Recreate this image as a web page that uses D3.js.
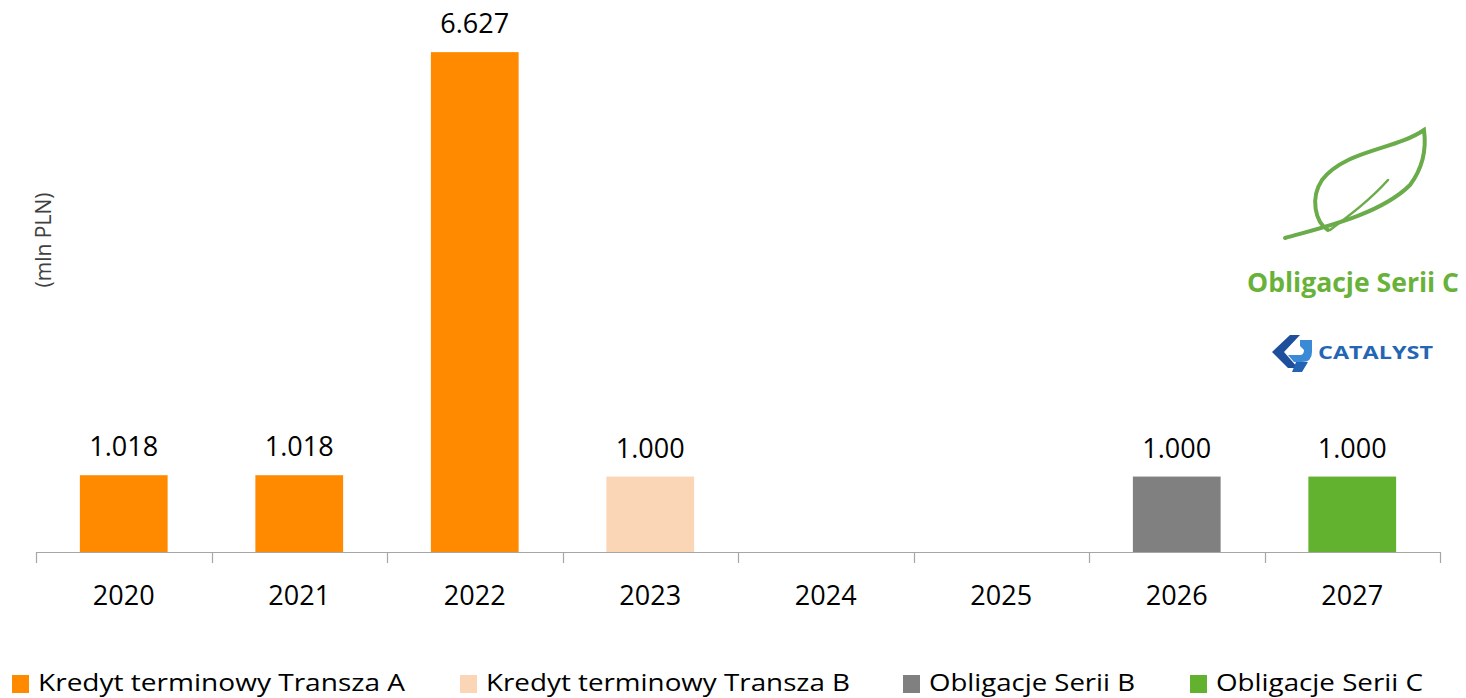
<!DOCTYPE html>
<html>
<head>
<meta charset="utf-8">
<script src="https://cdnjs.cloudflare.com/ajax/libs/d3/7.8.5/d3.min.js"></script>
<style>
  body { margin: 0; background: #fff; }
  text { font-family: "Open Sans", "Noto Sans", sans-serif; }
</style>
</head>
<body>
<div id="chart"></div>
<script>
var years = ["2020", "2021", "2022", "2023", "2024", "2025", "2026", "2027"];
var seriesNames = ["Kredyt terminowy Transza A", "Kredyt terminowy Transza B", "Obligacje Serii B", "Obligacje Serii C"];
var seriesColors = ["#ff8a00", "#fad5b6", "#808080", "#63b22f"];
var transzaA = [1.018, 1.018, 6.627, null, null, null, null, null];
var transzaB = [null, null, null, 1.000, null, null, null, null];
var serieB = [null, null, null, null, null, null, 1.000, null];
var serieC = [null, null, null, null, null, null, null, 1.000];

(function () {
  var width = 1466, height = 698;
  var svg = d3.select("#chart").append("svg")
    .attr("width", width)
    .attr("height", height);

  var allSeries = [transzaA, transzaB, serieB, serieC];
  var bars = [];
  allSeries.forEach(function (vals, s) {
    vals.forEach(function (v, i) {
      if (v != null) bars.push({ year: years[i], value: v, s: s });
    });
  });

  var x = d3.scaleBand().domain(years).range([36, 1440]).paddingInner(0.5).paddingOuter(0.25);
  var y = d3.scaleLinear().domain([0, 7]).range([552, 24]);

  // bars
  svg.selectAll(".bar")
    .data(bars)
    .enter().append("rect")
    .attr("class", "bar")
    .attr("x", function (d) { return x(d.year); })
    .attr("width", x.bandwidth())
    .attr("y", function (d) { return y(d.value); })
    .attr("height", function (d) { return y(0) - y(d.value); })
    .attr("fill", function (d) { return seriesColors[d.s]; });

  // value labels
  svg.selectAll(".lbl")
    .data(bars)
    .enter().append("text")
    .attr("x", function (d) { return x(d.year) + x.bandwidth() / 2; })
    .attr("y", function (d) { return y(d.value) - 19; })
    .attr("text-anchor", "middle")
    .style("font-size", "27px")
    .attr("fill", "#000")
    .text(function (d) { return d3.format(".3f")(d.value); });

  // x axis
  var axis = svg.append("g");
  axis.append("line")
    .attr("x1", 36).attr("x2", 1440).attr("y1", 552.5).attr("y2", 552.5)
    .attr("stroke", "#a6a6a6").attr("stroke-width", 1.2);
  d3.range(years.length + 1).forEach(function (i) {
    var tx = Math.round(36 + i * x.step() * 1) + 0.5;
    axis.append("line")
      .attr("x1", tx).attr("x2", tx).attr("y1", 552).attr("y2", 563)
      .attr("stroke", "#a6a6a6").attr("stroke-width", 1.2);
  });
  axis.selectAll(".yr")
    .data(years)
    .enter().append("text")
    .attr("x", function (d) { return x(d) + x.bandwidth() / 2; })
    .attr("y", 605)
    .attr("text-anchor", "middle")
    .style("font-size", "27px")
    .attr("fill", "#000")
    .text(function (d) { return d; });

  // y axis title
  svg.append("text")
    .attr("transform", "translate(51,240) rotate(-90)")
    .attr("text-anchor", "middle")
    .style("font-size", "21px")
    .attr("fill", "#404040")
    .text("(mln PLN)");

  // legend
  var legX = [12, 460, 903, 1190];
  var legW = [367, 364, 206, 207];
  var leg = svg.selectAll(".leg")
    .data(seriesNames)
    .enter().append("g")
    .attr("transform", function (d, i) { return "translate(" + legX[i] + ",0)"; });
  leg.append("rect")
    .attr("x", 0).attr("y", 675).attr("width", 17).attr("height", 18)
    .attr("fill", function (d, i) { return seriesColors[i]; });
  leg.append("text")
    .attr("x", 26).attr("y", 691)
    .style("font-size", "24px")
    .attr("fill", "#000")
    .attr("textLength", function (d, i) { return legW[i]; })
    .attr("lengthAdjust", "spacingAndGlyphs")
    .text(function (d) { return d; });

  // leaf logo
  var logo = svg.append("g");
  logo.append("path")
    .attr("d", "M1285,238 C1320,228 1380,215 1410,185 C1425,165 1426,145 1424,130 C1395,150 1345,150 1322,180 C1310,198 1315,222 1328,230")
    .attr("fill", "none").attr("stroke", "#6aab4a").attr("stroke-width", 4).attr("stroke-linecap", "round");
  logo.append("path")
    .attr("d", "M1388,180 C1370,200 1350,215 1330,230")
    .attr("fill", "none").attr("stroke", "#6aab4a").attr("stroke-width", 2.5).attr("stroke-linecap", "round");

  svg.append("text")
    .attr("x", 1353).attr("y", 292)
    .attr("text-anchor", "middle")
    .style("font-size", "26px").style("font-weight", "bold")
    .attr("textLength", 212).attr("lengthAdjust", "spacingAndGlyphs")
    .attr("fill", "#68b23a")
    .text("Obligacje Serii C");

  // catalyst logo
  var cat = svg.append("g");
  cat.append("path")
    .attr("d", "M1290,335 L1300,335 L1284,352 L1298,368 L1288,368 L1272,352 Z")
    .attr("fill", "#1d4f9c");
  cat.append("path")
    .attr("d", "M1300,340 L1312,340 L1312,352 Q1312,362 1302,362 L1294,362 L1288,355 L1300,355 Q1304,355 1304,350 L1300,346 Z")
    .attr("fill", "#3a8ad6");
  cat.append("path")
    .attr("d", "M1296,362 L1308,362 L1302,372 L1292,372 Z")
    .attr("fill", "#2363b3");
  cat.append("text")
    .attr("x", 1318).attr("y", 359)
    .style("font-size", "18px").style("font-weight", "bold")
    .attr("textLength", 115).attr("lengthAdjust", "spacingAndGlyphs")
    .attr("fill", "#2466b3")
    .text("CATALYST");
})();
</script>
</body>
</html>
